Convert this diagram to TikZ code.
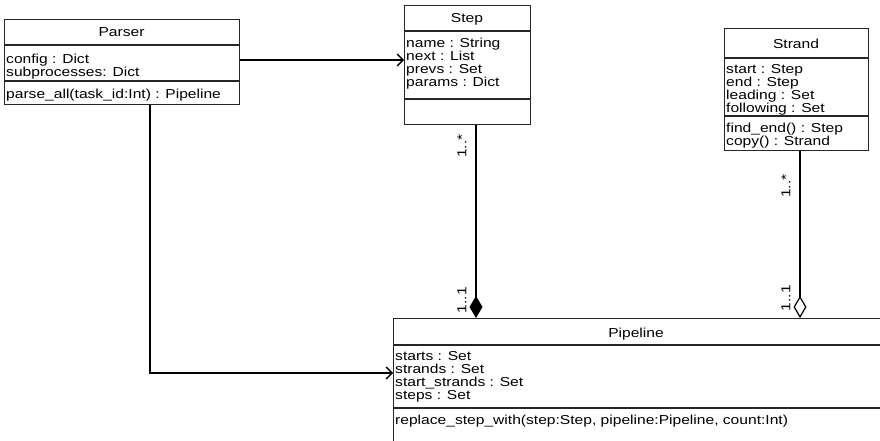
\documentclass[tikz,border=0pt]{standalone}
\usepackage{fontspec}
\setmainfont{Liberation Sans}[FakeStretch=1.2]
\usetikzlibrary{arrows.meta}
\tikzset{
  umlbox/.style={draw=black!85, line width=1.1pt, inner sep=0pt, anchor=north west},
  sep/.style={draw=black!85, line width=1.1pt},
  txt/.style={inner sep=0pt, font=\fontsize{13}{13}\selectfont, anchor=base west},
  ttl/.style={inner sep=0pt, font=\fontsize{13}{13}\selectfont, anchor=base},
  conn/.style={draw=black, line width=1.8pt},
  openarrow/.style={-{Straight Barb[length=6pt,width=12pt,line width=1.4pt]}},
  mult/.style={inner sep=0pt, font=\fontsize{13}{13}\selectfont, rotate=90, anchor=center},
}
\begin{document}
\begin{tikzpicture}[x=1pt,y=-1pt]
\clip (0,0) rectangle (880,441);
\fill[white] (0,0) rectangle (880,441);
% Parser
\node[umlbox, minimum width=235pt, minimum height=85pt] (parser) at (4,19) {};
\draw[sep] (4,45) -- (239,45);
\draw[sep] (4,81) -- (239,81);
\node[ttl] (parserT) at (121.5,37) {Parser};
\node[txt] (parserA1) at (6,63.5) {config : Dict};
\node[txt] (parserA2) at (6,76.5) {subprocesses: Dict};
\node[txt] (parserM1) at (6,98.5) {parse\_all(task\_id:Int) : Pipeline};
% Step
\node[umlbox, minimum width=126pt, minimum height=119pt] (step) at (404,5) {};
\draw[sep] (404,31) -- (530,31);
\draw[sep] (404,99) -- (530,99);
\node[ttl] (stepT) at (467,23) {Step};
\node[txt] (stepA1) at (406,47.5) {name : String};
\node[txt] (stepA2) at (406,60.5) {next : List};
\node[txt] (stepA3) at (406,73.5) {prevs : Set};
\node[txt] (stepA4) at (406,86.5) {params : Dict};
% Strand
\node[umlbox, minimum width=144pt, minimum height=122pt] (strand) at (724,28) {};
\draw[sep] (724,58) -- (868,58);
\draw[sep] (724,116) -- (868,116);
\node[ttl] (strandT) at (796,49) {Strand};
\node[txt] (strandA1) at (726,73.5) {start : Step};
\node[txt] (strandA2) at (726,86.5) {end : Step};
\node[txt] (strandA3) at (726,99.5) {leading : Set};
\node[txt] (strandA4) at (726,112.5) {following : Set};
\node[txt] (strandM1) at (726,132.5) {find\_end() : Step};
\node[txt] (strandM2) at (726,145.5) {copy() : Strand};
% Pipeline
\node[umlbox, minimum width=500pt, minimum height=140pt] (pipe) at (393,318) {};
\draw[sep] (393,345) -- (890,345);
\draw[sep] (393,408) -- (890,408);
\node[ttl] (pipeT) at (636,337.5) {Pipeline};
\node[txt] (pipeA1) at (395,360.5) {starts : Set};
\node[txt] (pipeA2) at (395,373.5) {strands : Set};
\node[txt] (pipeA3) at (395,386.5) {start\_strands : Set};
\node[txt] (pipeA4) at (395,399.5) {steps : Set};
\node[txt] (pipeM1) at (395,424.5) {replace\_step\_with(step:Step, pipeline:Pipeline, count:Int)};
% connectors
\coordinate (pp1) at (150,373);
\draw[conn, openarrow] (parser.east |- 0,60) -- (step.west |- 0,60);
\draw[conn, openarrow] (parser.south -| pp1) -- (pp1) -- (pipe.west |- pp1);
\draw[conn, -{Diamond[length=22pt,width=13pt]}] (step.south -| 476,0) -- (pipe.north -| 476,0);
\draw[conn, -{Diamond[open,length=22pt,width=13pt,line width=1.2pt]}] (strand.south -| 800,0) -- (pipe.north -| 800,0);
\node[mult] (m1) at (462,146) {1..*};
\node[mult] (m2) at (462,300) {1..1};
\node[mult] (m3) at (786,186) {1..*};
\node[mult] (m4) at (786,298) {1..1};
\end{tikzpicture}
\end{document}
